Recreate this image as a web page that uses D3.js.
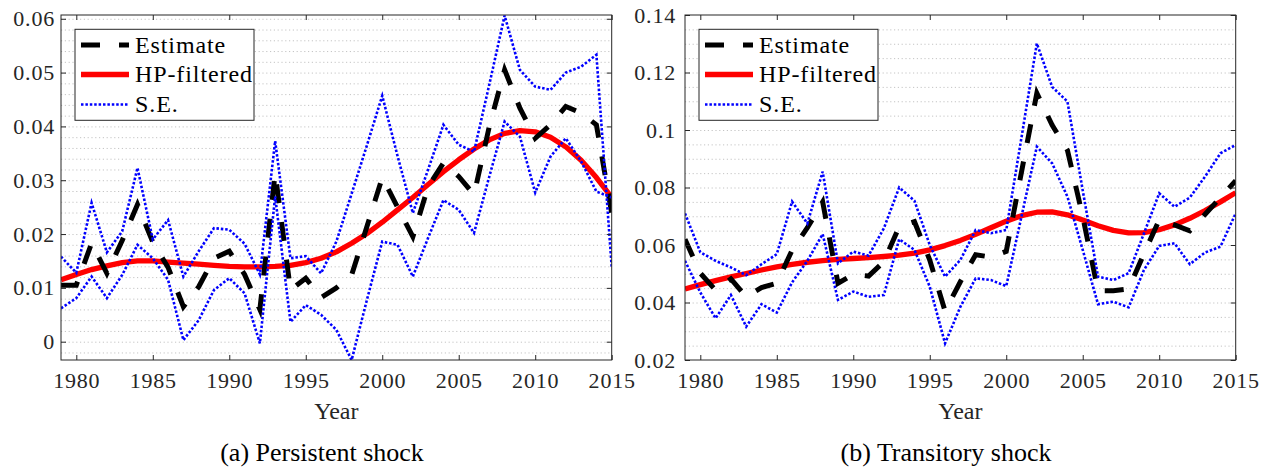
<!DOCTYPE html>
<html>
<head>
<meta charset="utf-8">
<script src="https://cdn.jsdelivr.net/npm/d3@7"></script>
<style>
  body { margin: 0; background: #fff; }
  text { font-family: "Liberation Serif", "Times New Roman", serif; }
</style>
</head>
<body>
<svg id="fig" width="1270" height="468"></svg>
<script>
// ---- data ----
const years = [1979, 1980, 1981, 1982, 1983, 1984, 1985, 1986, 1987, 1988,
               1989, 1990, 1991, 1992, 1993, 1994, 1995, 1996, 1997, 1998,
               1999, 2000, 2001, 2002, 2003, 2004, 2005, 2006, 2007, 2008,
               2009, 2010, 2011, 2012, 2013, 2014, 2015];

// (a) persistent shock
const persistentEstimate = [0.0105, 0.0105, 0.0183, 0.0127, 0.0188, 0.0255, 0.0185, 0.0138, 0.0065, 0.0102,
                            0.0155, 0.0168, 0.0125, 0.0060, 0.0313, 0.0096, 0.0118, 0.0082, 0.0100, 0.0124,
                            0.0214, 0.0305, 0.0250, 0.0195, 0.0288, 0.0332, 0.0307, 0.0273, 0.0400, 0.0505,
                            0.0434, 0.0378, 0.0403, 0.0437, 0.0425, 0.0403, 0.0239];
const persistentHP = [0.0115, 0.0125, 0.0134, 0.0141, 0.0147, 0.0150, 0.0150, 0.0148, 0.0146, 0.0144,
                      0.0142, 0.0140, 0.0139, 0.0139, 0.0140, 0.0142, 0.0147, 0.0155, 0.0167, 0.0183,
                      0.0201, 0.0222, 0.0245, 0.0268, 0.0292, 0.0316, 0.0338, 0.0358, 0.0375, 0.0387,
                      0.0392, 0.0390, 0.0380, 0.0362, 0.0337, 0.0305, 0.0268];
const persistentSEHigh = [0.0158, 0.0128, 0.0258, 0.0166, 0.0205, 0.0323, 0.0190, 0.0226, 0.0121, 0.0168,
                          0.0211, 0.0208, 0.0182, 0.0125, 0.0373, 0.0155, 0.0159, 0.0127, 0.0186, 0.0275,
                          0.0365, 0.0457, 0.0345, 0.0239, 0.0320, 0.0403, 0.0366, 0.0353, 0.0478, 0.0606,
                          0.0505, 0.0474, 0.0468, 0.0500, 0.0511, 0.0533, 0.0139];
const persistentSELow = [0.0062, 0.0081, 0.0121, 0.0081, 0.0124, 0.0180, 0.0155, 0.0115, 0.0003, 0.0040,
                         0.0096, 0.0118, 0.0090, -0.0003, 0.0270, 0.0037, 0.0068, 0.0050, 0.0022, -0.0034,
                         0.0078, 0.0186, 0.0180, 0.0121, 0.0193, 0.0263, 0.0245, 0.0202, 0.0307, 0.0409,
                         0.0381, 0.0277, 0.0344, 0.0378, 0.0335, 0.0279, 0.0268];

// (b) transitory shock
const transitoryEstimate = [0.0620, 0.0502, 0.0443, 0.0482, 0.0420, 0.0452, 0.0467, 0.0582, 0.0660, 0.0750,
                            0.0467, 0.0498, 0.0492, 0.0542, 0.0664, 0.0681, 0.0548, 0.0370, 0.0472, 0.0566,
                            0.0558, 0.0578, 0.0855, 0.1128, 0.1017, 0.0930, 0.0699, 0.0441, 0.0441, 0.0447,
                            0.0570, 0.0687, 0.0670, 0.0649, 0.0707, 0.0765, 0.0824];
const transitoryHP = [0.0447, 0.0462, 0.0476, 0.0489, 0.0501, 0.0513, 0.0524, 0.0533, 0.0540, 0.0546,
                      0.0550, 0.0553, 0.0556, 0.0560, 0.0565, 0.0572, 0.0583, 0.0598, 0.0616, 0.0637,
                      0.0660, 0.0683, 0.0702, 0.0714, 0.0715, 0.0705, 0.0687, 0.0667, 0.0651, 0.0642,
                      0.0643, 0.0653, 0.0670, 0.0693, 0.0720, 0.0750, 0.0782];
const transitorySEHigh = [0.0710, 0.0575, 0.0545, 0.0522, 0.0495, 0.0533, 0.0568, 0.0751, 0.0675, 0.0855,
                          0.0536, 0.0577, 0.0563, 0.0658, 0.0800, 0.0754, 0.0600, 0.0490, 0.0548, 0.0652,
                          0.0641, 0.0652, 0.0975, 0.1301, 0.1150, 0.1099, 0.0790, 0.0490, 0.0478, 0.0502,
                          0.0640, 0.0780, 0.0733, 0.0765, 0.0838, 0.0919, 0.0948];
const transitorySELow = [0.0545, 0.0435, 0.0345, 0.0426, 0.0316, 0.0394, 0.0365, 0.0470, 0.0545, 0.0638,
                         0.0409, 0.0438, 0.0420, 0.0426, 0.0620, 0.0583, 0.0455, 0.0258, 0.0385, 0.0484,
                         0.0478, 0.0457, 0.0700, 0.0942, 0.0884, 0.0768, 0.0583, 0.0394, 0.0403, 0.0383,
                         0.0513, 0.0597, 0.0606, 0.0533, 0.0574, 0.0594, 0.0710];

// ---- axes setup ----
const xDomain = [1979, 2015];
const xTicks = [1980, 1985, 1990, 1995, 2000, 2005, 2010, 2015];
const persistentYDomain = [-0.0034, 0.0607];
const persistentYTicks = [0, 0.01, 0.02, 0.03, 0.04, 0.05, 0.06];
const transitoryYDomain = [0.02, 0.14];
const transitoryYTicks = [0.02, 0.04, 0.06, 0.08, 0.1, 0.12, 0.14];
const legendLabels = ["Estimate", "HP-filtered", "S.E."];
const xLabel = "Year";

const panels = [
  { id: "a", caption: "(a) Persistent shock", x0: 61, x1: 611.7, y0: 15, y1: 360,
    yDomain: persistentYDomain, yTicks: persistentYTicks, minorStep: 0.002, labelPad: 6,
    est: persistentEstimate, hp: persistentHP, hi: persistentSEHigh, lo: persistentSELow,
    captionX: 322 },
  { id: "b", caption: "(b) Transitory shock", x0: 685, x1: 1235.7, y0: 15, y1: 360,
    yDomain: transitoryYDomain, yTicks: transitoryYTicks, minorStep: 0.005, labelPad: 9,
    est: transitoryEstimate, hp: transitoryHP, hi: transitorySEHigh, lo: transitorySELow,
    captionX: 946 }
];

const axisColor = "#262626";
const estStyle = { stroke: "#000", width: 5, dash: "19,19" };
const hpStyle = { stroke: "#ff0000", width: 5.3, dash: null };
const seStyle = { stroke: "#0000ff", width: 2.6, dash: "2.5,1.9" };

const svg = d3.select("#fig");
svg.append("rect").attr("width", 1270).attr("height", 468).attr("fill", "#fff");

function drawPanel(p) {
  const W = p.x1 - p.x0, H = p.y1 - p.y0;
  const x = d3.scaleLinear().domain(xDomain).range([p.x0, p.x1]);
  const y = d3.scaleLinear().domain(p.yDomain).range([p.y1, p.y0]);

  const g = svg.append("g");

  // dotted horizontal grid (major + minor)
  const lo = Math.ceil(p.yDomain[0] / p.minorStep);
  const hi = Math.floor(p.yDomain[1] / p.minorStep + 1e-9);
  const gridVals = d3.range(lo, hi + 1).map(k => +(k * p.minorStep).toFixed(6))
    .filter(v => y(v) > p.y0 + 1 && y(v) < p.y1 - 1);
  g.append("g")
    .attr("transform", `translate(${p.x0},0)`)
    .call(d3.axisLeft(y).tickValues(gridVals).tickSize(-W).tickFormat(""))
    .call(a => a.select(".domain").remove())
    .call(a => a.selectAll("line")
      .attr("stroke", "#c4c4c4").attr("stroke-width", 1)
      .attr("stroke-dasharray", "1.2,2.6"));

  // series, clipped to the axes box
  const clipId = "clip-" + p.id;
  svg.append("clipPath").attr("id", clipId)
    .append("rect").attr("x", p.x0).attr("y", p.y0).attr("width", W).attr("height", H);
  const plot = g.append("g").attr("clip-path", `url(#${clipId})`);

  const line = vals => d3.line()
    .x((d, i) => x(years[i]))
    .y(d => y(d))(vals);
  const stroke = (sel, s) => {
    sel.attr("fill", "none").attr("stroke", s.stroke).attr("stroke-width", s.width);
    if (s.dash) sel.attr("stroke-dasharray", s.dash);
    return sel;
  };

  stroke(plot.append("path").attr("d", line(p.hp)), hpStyle).attr("stroke-linejoin", "round");
  stroke(plot.append("path").attr("d", line(p.est)), estStyle);
  [p.hi, p.lo].forEach(s => stroke(plot.append("path").attr("d", line(s)), seStyle));

  // axes: inward ticks on all four sides
  const tick = 5;
  const styleAxis = a => {
    a.select(".domain").remove();
    a.selectAll("line").attr("stroke", axisColor);
    a.selectAll("text").attr("fill", axisColor).style("font-size", "22px")
      .style("letter-spacing", "0.8px")
      .style("font-family", '"Liberation Serif", "Times New Roman", serif');
  };
  g.append("g").attr("transform", `translate(0,${p.y1})`)
    .call(d3.axisBottom(x).tickValues(xTicks).tickFormat(d3.format("d"))
      .tickSizeInner(-tick).tickSizeOuter(0).tickPadding(12))
    .call(styleAxis);
  g.append("g").attr("transform", `translate(0,${p.y0})`)
    .call(d3.axisTop(x).tickValues(xTicks).tickFormat("")
      .tickSizeInner(-tick).tickSizeOuter(0))
    .call(styleAxis);
  g.append("g").attr("transform", `translate(${p.x0},0)`)
    .call(d3.axisLeft(y).tickValues(p.yTicks).tickFormat(d => d3.format("")(+d.toFixed(4)))
      .tickSizeInner(-tick).tickSizeOuter(0).tickPadding(p.labelPad))
    .call(styleAxis);
  g.append("g").attr("transform", `translate(${p.x1},0)`)
    .call(d3.axisRight(y).tickValues(p.yTicks).tickFormat("")
      .tickSizeInner(-tick).tickSizeOuter(0))
    .call(styleAxis);

  // box
  g.append("rect").attr("x", p.x0).attr("y", p.y0).attr("width", W).attr("height", H)
    .attr("fill", "none").attr("stroke", axisColor).attr("stroke-width", 1);

  // x label
  g.append("text").attr("x", (p.x0 + p.x1) / 2).attr("y", 419)
    .attr("text-anchor", "middle").attr("fill", axisColor)
    .style("font-size", "24px").text(xLabel);

  // legend
  const lx = p.x0 + 14, ly = 29.3;
  const lg = g.append("g").attr("transform", `translate(${lx},${ly})`);
  lg.append("rect").attr("width", 179).attr("height", 91)
    .attr("fill", "#fff").attr("stroke", axisColor).attr("stroke-width", 1);
  const rows = [15.7, 45.2, 75.2];
  const styles = [estStyle, hpStyle, seStyle];
  legendLabels.forEach((lab, i) => {
    stroke(lg.append("line").attr("x1", 6).attr("x2", 54)
      .attr("y1", rows[i]).attr("y2", rows[i]), styles[i]);
    lg.append("text").attr("x", 60).attr("y", rows[i] + 7.8)
      .attr("fill", "#000").style("font-size", "24px")
      .style("letter-spacing", "0.9px").text(lab);
  });

  // caption
  svg.append("text").attr("x", p.captionX).attr("y", 461)
    .attr("text-anchor", "middle").attr("fill", "#000")
    .style("font-size", "26px").text(p.caption);
}

panels.forEach(drawPanel);
</script>
</body>
</html>
